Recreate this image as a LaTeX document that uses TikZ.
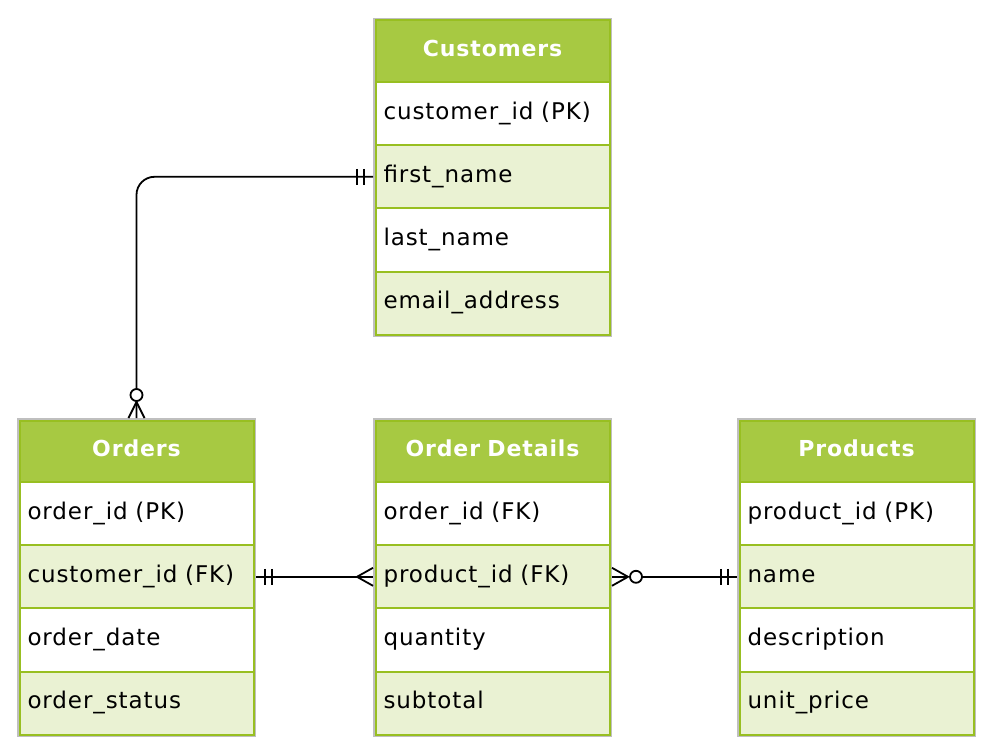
\documentclass[tikz,border=0pt]{standalone}
\usepackage{fontspec}
\setmainfont{DejaVu Sans}[LetterSpace=4]
\usetikzlibrary{positioning}

\definecolor{headgreen}{HTML}{A7C942}
\definecolor{altgreen}{HTML}{EAF2D3}
\definecolor{rowline}{HTML}{98BF21}
\definecolor{outergrey}{HTML}{BFBFBF}

\begin{document}
\begin{tikzpicture}[x=1pt,y=-1pt,
  cell/.style={draw=rowline, line width=2pt, outer sep=0pt, inner xsep=8pt,
    text width=218pt, text height=16pt, text depth=5pt,
    font=\fontsize{23}{27}\selectfont},
  head/.style={cell, fill=headgreen, text=white, align=center, minimum height=61.5pt,
    font=\fontsize{22}{26}\selectfont\bfseries},
  row/.style={cell, fill=white, align=left, minimum height=63.2pt},
  altrow/.style={row, fill=altgreen},
  outline/.style={draw=outergrey, line width=1.5pt},
  conn/.style={black, line width=1.8pt}]
  \useasboundingbox (0,0) rectangle (995,754);

  % Customers
  \node[head, anchor=north west] (cust-h) at (375.5,20.5) {Customers};
  \node[row] (cust-1) [below=0pt of cust-h] {customer\_id (PK)};
  \node[altrow] (cust-2) [below=0pt of cust-1] {first\_name};
  \node[row] (cust-3) [below=0pt of cust-2] {last\_name};
  \node[altrow] (cust-4) [below=0pt of cust-3] {email\_address};
  \draw[outline] ([xshift=-1.75pt,yshift=1.75pt]cust-h.north west) rectangle ([xshift=1.75pt,yshift=-1.75pt]cust-4.south east);

  % Orders
  \node[head, anchor=north west] (ord-h) at (19.5,420.5) {Orders};
  \node[row] (ord-1) [below=0pt of ord-h] {order\_id (PK)};
  \node[altrow] (ord-2) [below=0pt of ord-1] {customer\_id (FK)};
  \node[row] (ord-3) [below=0pt of ord-2] {order\_date};
  \node[altrow] (ord-4) [below=0pt of ord-3] {order\_status};
  \draw[outline] ([xshift=-1.75pt,yshift=1.75pt]ord-h.north west) rectangle ([xshift=1.75pt,yshift=-1.75pt]ord-4.south east);

  % Order Details
  \node[head, anchor=north west] (det-h) at (375.5,420.5) {Order Details};
  \node[row] (det-1) [below=0pt of det-h] {order\_id (FK)};
  \node[altrow] (det-2) [below=0pt of det-1] {product\_id (FK)};
  \node[row] (det-3) [below=0pt of det-2] {quantity};
  \node[altrow] (det-4) [below=0pt of det-3] {subtotal};
  \draw[outline] ([xshift=-1.75pt,yshift=1.75pt]det-h.north west) rectangle ([xshift=1.75pt,yshift=-1.75pt]det-4.south east);

  % Products
  \node[head, anchor=north west] (prod-h) at (739.5,420.5) {Products};
  \node[row] (prod-1) [below=0pt of prod-h] {product\_id (PK)};
  \node[altrow] (prod-2) [below=0pt of prod-1] {name};
  \node[row] (prod-3) [below=0pt of prod-2] {description};
  \node[altrow] (prod-4) [below=0pt of prod-3] {unit\_price};
  \draw[outline] ([xshift=-1.75pt,yshift=1.75pt]prod-h.north west) rectangle ([xshift=1.75pt,yshift=-1.75pt]prod-4.south east);

  % Connector ends
  \coordinate (c1a) at ([xshift=-2.5pt]cust-2.west);
  \coordinate (c1b) at ([yshift=2.5pt]ord-h.north);
  \coordinate (c2a) at ([xshift=2.5pt]ord-2.east);
  \coordinate (c2b) at ([xshift=-2.5pt]det-2.west);
  \coordinate (c3a) at ([xshift=2.5pt]det-2.east);
  \coordinate (c3b) at ([xshift=-2.5pt]prod-2.west);

  % Customers -- Orders
  \draw[conn, rounded corners=18pt] (c1a) -| (c1b);
  \draw[conn] ([xshift=-9pt,yshift=8pt]c1a) -- ([xshift=-9pt,yshift=-8pt]c1a);
  \draw[conn] ([xshift=-16pt,yshift=8pt]c1a) -- ([xshift=-16pt,yshift=-8pt]c1a);
  \draw[conn] ([xshift=-8pt]c1b) -- ([yshift=16pt]c1b) -- ([xshift=8pt]c1b);
  \draw[conn, fill=white] ([yshift=23pt]c1b) circle (6pt);

  % Orders -- Order Details
  \draw[conn] (c2a) -- (c2b);
  \draw[conn] ([xshift=9pt,yshift=8pt]c2a) -- ([xshift=9pt,yshift=-8pt]c2a);
  \draw[conn] ([xshift=16pt,yshift=8pt]c2a) -- ([xshift=16pt,yshift=-8pt]c2a);
  \draw[conn] ([yshift=9pt]c2b) -- ([xshift=-16pt]c2b) -- ([yshift=-9pt]c2b);

  % Order Details -- Products
  \draw[conn] ([xshift=30pt]c3a) -- (c3b);
  \draw[conn] ([yshift=9pt]c3a) -- ([xshift=16pt]c3a) -- ([yshift=-9pt]c3a);
  \draw[conn] (c3a) -- ([xshift=16pt]c3a);
  \draw[conn, fill=white] ([xshift=24pt]c3a) circle (6pt);
  \draw[conn] ([xshift=-9pt,yshift=8pt]c3b) -- ([xshift=-9pt,yshift=-8pt]c3b);
  \draw[conn] ([xshift=-16pt,yshift=8pt]c3b) -- ([xshift=-16pt,yshift=-8pt]c3b);
\end{tikzpicture}
\end{document}
